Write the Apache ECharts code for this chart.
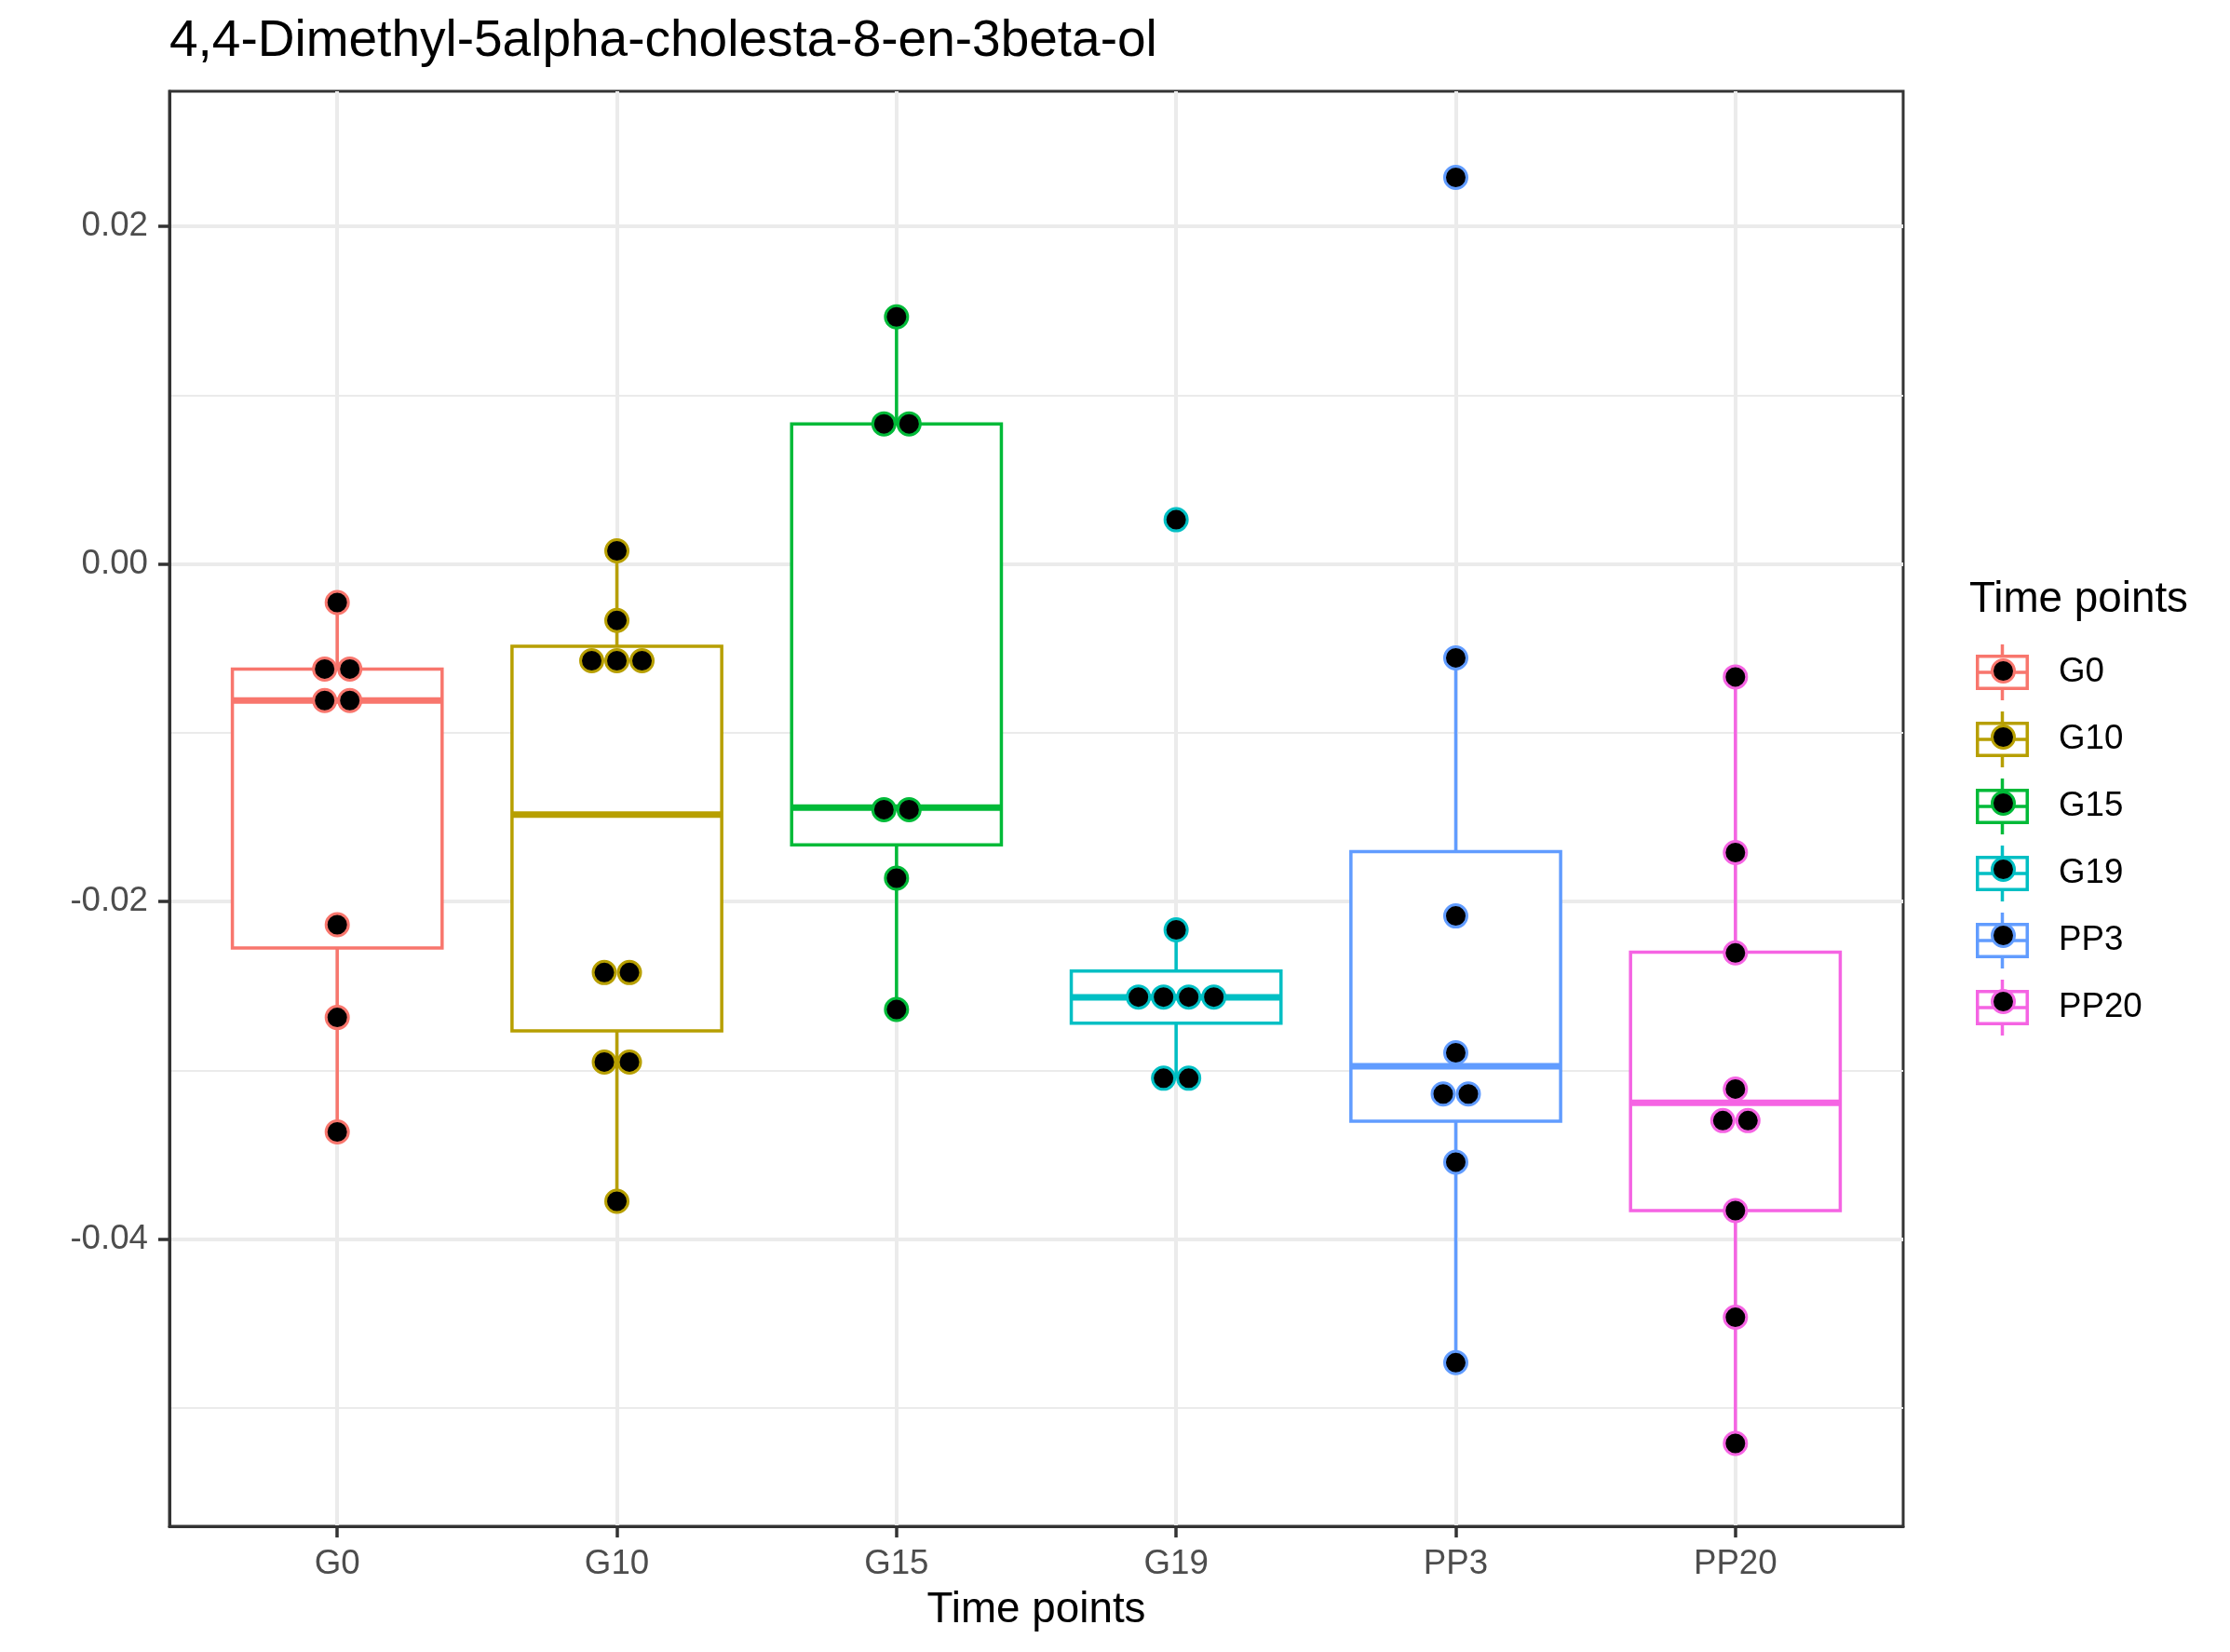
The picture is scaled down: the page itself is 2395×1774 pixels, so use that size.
<!DOCTYPE html>
<html><head><meta charset="utf-8">
<script src="https://cdn.jsdelivr.net/npm/echarts@6/dist/echarts.min.js"></script>
<style>html,body{margin:0;padding:0;background:#fff}#chart{width:2395px;height:1774px}</style>
</head><body><div id="chart"></div>
<script>
// ---- data ----
const categories = ['G0', 'G10', 'G15', 'G19', 'PP3', 'PP20'];
const colors = ['#F8766D', '#B79F00', '#00BA38', '#00BFC4', '#619CFF', '#F564E3'];

const g0Points   = [-0.00228, -0.00622, -0.00622, -0.00809, -0.00809, -0.02137, -0.02686, -0.03364];
const g10Points  = [0.00078, -0.00334, -0.00573, -0.00573, -0.00573, -0.0242, -0.0242, -0.0295, -0.0295, -0.03775];
const g15Points  = [0.01464, 0.0083, 0.0083, -0.01455, -0.01455, -0.01861, -0.02639];
const g19Points  = [0.00262, -0.02167, -0.02565, -0.02565, -0.02565, -0.02565, -0.03046, -0.03046];
const pp3Points  = [0.0229, -0.00556, -0.02085, -0.02895, -0.03139, -0.03139, -0.03543, -0.04731];
const pp20Points = [-0.00669, -0.01709, -0.02304, -0.0311, -0.03297, -0.03297, -0.0383, -0.04462, -0.05209];
const points = [g0Points, g10Points, g15Points, g19Points, pp3Points, pp20Points];

const boxLow    = [-0.03364, -0.03775, -0.02639, -0.03046, -0.04731, -0.05209];
const boxQ1     = [-0.02275, -0.02765, -0.01664, -0.0272, -0.03301, -0.0383];
const boxMedian = [-0.00809, -0.01484, -0.01443, -0.02567, -0.02975, -0.03191];
const boxQ3     = [-0.00622, -0.00487, 0.0083, -0.02411, -0.01704, -0.023];
const boxHigh   = [-0.00228, 0.00078, 0.01464, -0.02167, -0.00556, -0.00669];

const yTicks = [-0.04, -0.02, 0, 0.02];
const xTicks = [0, 1, 2, 3, 4, 5];

// ---- styling ----
const FONT = 'Liberation Sans, Arial, Helvetica, sans-serif';
const BOX_WIDTH = 0.75;
const LW = 3.5;
const DOT_SIZE = 24;
const DOT_STEP = 27;
const TICK_COLOR = '#333333';

const series = [];
categories.forEach((cat, i) => {
  const col = colors[i];
  series.push({
    type: 'custom',
    name: cat,
    z: 2,
    silent: true,
    encode: { x: 0, y: [1, 2, 3, 4, 5] },
    data: [[i, boxLow[i], boxQ1[i], boxMedian[i], boxQ3[i], boxHigh[i]]],
    itemStyle: { color: col },
    renderItem: function (params, api) {
      const x = api.value(0);
      const pLow = api.coord([x, api.value(1)]);
      const pQ1 = api.coord([x, api.value(2)]);
      const pMed = api.coord([x, api.value(3)]);
      const pQ3 = api.coord([x, api.value(4)]);
      const pHigh = api.coord([x, api.value(5)]);
      const half = api.size([BOX_WIDTH, 0])[0] / 2;
      const cx = pMed[0];
      return {
        type: 'group',
        children: [
          { type: 'line', shape: { x1: cx, y1: pHigh[1], x2: cx, y2: pQ3[1] }, style: { stroke: col, lineWidth: LW } },
          { type: 'line', shape: { x1: cx, y1: pQ1[1], x2: cx, y2: pLow[1] }, style: { stroke: col, lineWidth: LW } },
          { type: 'rect', shape: { x: cx - half, y: pQ3[1], width: 2 * half, height: pQ1[1] - pQ3[1] },
            style: { fill: '#ffffff', stroke: col, lineWidth: LW, lineJoin: 'miter' } },
          { type: 'line', shape: { x1: cx - half, y1: pMed[1], x2: cx + half, y2: pMed[1] }, style: { stroke: col, lineWidth: LW * 2 } }
        ]
      };
    }
  });
  // dot-plot style stacking: identical values are placed side by side
  const counts = {};
  points[i].forEach(v => { counts[v] = (counts[v] || 0) + 1; });
  const seen = {};
  const dots = points[i].map(v => {
    const n = counts[v];
    const k = seen[v] || 0;
    seen[v] = k + 1;
    return { value: [i, v], symbolOffset: [(k - (n - 1) / 2) * DOT_STEP, 0] };
  });
  series.push({
    type: 'scatter',
    name: cat,
    z: 3,
    silent: true,
    symbol: 'circle',
    symbolSize: DOT_SIZE,
    itemStyle: { color: '#000000', borderColor: col, borderWidth: 3, opacity: 1 },
    data: dots
  });
});

const boxIcon = 'path://M0 11H57V49H0Z M3.5 14.5V45.5H53.5V14.5Z M3.5 28.25H53.5V31.75H3.5Z M26.75 0H30.25V11H26.75Z M26.75 49H30.25V60H26.75Z';

const option = {
  animation: false,
  backgroundColor: '#ffffff',
  title: [
    { text: '4,4-Dimethyl-5alpha-cholesta-8-en-3beta-ol', left: 182, top: 17, padding: 0,
      textStyle: { fontFamily: FONT, fontSize: 55, fontWeight: 'normal', color: '#000000' } },
    { text: 'Time points', left: 2115, top: 621, padding: 0,
      textStyle: { fontFamily: FONT, fontSize: 45.8, fontWeight: 'normal', color: '#000000' } }
  ],
  grid: { left: 182, right: 351, top: 98, bottom: 135, show: true, borderColor: '#333333', borderWidth: 3, backgroundColor: 'transparent' },
  legend: [
    {
      orient: 'vertical', left: 2122, top: 692, padding: 0, itemGap: 12, itemWidth: 57, itemHeight: 60,
      selectedMode: false,
      data: categories.map((c, i) => ({ name: c, icon: boxIcon, itemStyle: { color: colors[i], borderWidth: 0 } })),
      textStyle: { fontFamily: FONT, fontSize: 36.7, color: '#000000', padding: [0, 0, 0, 27] }
    },
    {
      orient: 'vertical', left: 2138, top: 707, padding: 0, itemGap: 44, itemWidth: 24, itemHeight: 24, z: 6,
      selectedMode: false,
      formatter: () => ' ',
      data: categories.map((c, i) => ({ name: c, icon: 'circle', itemStyle: { color: '#000000', borderColor: colors[i], borderWidth: 3 } })),
      textStyle: { fontSize: 1, color: 'transparent' }
    }
  ],
  xAxis: {
    type: 'value', min: -0.6, max: 5.6,
    name: 'Time points', nameLocation: 'middle', nameGap: 67,
    nameTextStyle: { fontFamily: FONT, fontSize: 45.8, color: '#000000' },
    axisLine: { show: true, onZero: false, lineStyle: { color: '#333333', width: 3 } },
    axisTick: { show: true, length: 12, customValues: xTicks, lineStyle: { color: TICK_COLOR, width: 3.5 } },
    axisLabel: { customValues: xTicks, formatter: v => categories[Math.round(v)] || '', fontFamily: FONT, fontSize: 36.7, color: '#4D4D4D', margin: 22 },
    splitLine: { show: true, lineStyle: { color: '#EBEBEB', width: 4 } }
  },
  yAxis: {
    type: 'value', min: -0.057, max: 0.028,
    axisLine: { show: true, onZero: false, lineStyle: { color: '#333333', width: 3 } },
    axisTick: { show: true, length: 12, customValues: yTicks, lineStyle: { color: TICK_COLOR, width: 3.5 } },
    axisLabel: { customValues: yTicks, formatter: v => v.toFixed(2), fontFamily: FONT, fontSize: 36.7, color: '#4D4D4D', margin: 23 },
    splitLine: { show: true, lineStyle: { color: '#EBEBEB', width: 4 } },
    minorTick: { show: false, splitNumber: 2 },
    minorSplitLine: { show: true, lineStyle: { color: '#EBEBEB', width: 2.2 } }
  },
  series: series
};

const chart = echarts.init(document.getElementById('chart'), null, { renderer: 'canvas' });
chart.setOption(option);
</script></body></html>
